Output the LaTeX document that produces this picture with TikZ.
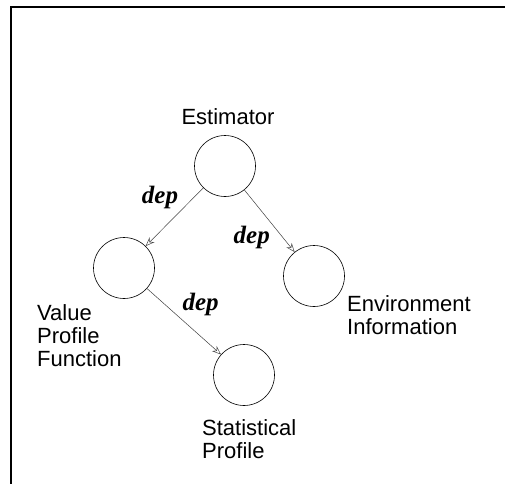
\documentclass[tikz,border=0pt]{standalone}
\usepackage{fontspec}
\setmainfont{Liberation Serif}
\setsansfont{Liberation Sans}
\usepackage{tikz}
\usetikzlibrary{arrows.meta,positioning}
\tikzset{
  module/.style={circle,draw=black,line width=0.6pt,minimum size=61pt,inner sep=0pt},
  caption/.style={font=\sffamily\fontsize{22}{23}\selectfont,align=left,inner sep=0pt},
  arrow/.style={-{Stealth[open,length=9pt,width=7pt]},draw=black!75,line width=0.5pt},
  labelstyle/.style={font=\itshape\bfseries\fontsize{25}{25}\selectfont,inner sep=2pt},
  frame/.style={draw=black,line width=1.2pt}
}
\begin{document}
\begin{tikzpicture}[x=1pt,y=-1pt,node distance=8pt]
  \useasboundingbox (0,0) rectangle (505,484);
  \draw[frame] (505,7) -- (11,7) -- (11,484);
  \node[module] (est) at (225,166) {};
  \node[module] (vpf) at (124,268) {};
  \node[module] (env) at (314,276) {};
  \node[module] (stat) at (244,375) {};
  \node[caption,above=10pt of est,xshift=3pt] (estlbl) {Estimator};
  \node[caption,anchor=north west] (vpflbl) at (37,304) {Value\\Profile\\Function};
  \node[caption,anchor=north west] (envlbl) at (347,295) {Environment\\Information};
  \node[caption,anchor=north west] (statlbl) at (202,419) {Statistical\\Profile};
  \draw[arrow] (est) -- node[labelstyle,pos=0.4,above left] (dep1) {dep} (vpf);
  \draw[arrow] (est) -- node[labelstyle,pos=0.55,below left] (dep2) {dep} (env);
  \draw[arrow] (vpf) -- node[labelstyle,pos=0.45,above right] (dep3) {dep} (stat);
\end{tikzpicture}
\end{document}
